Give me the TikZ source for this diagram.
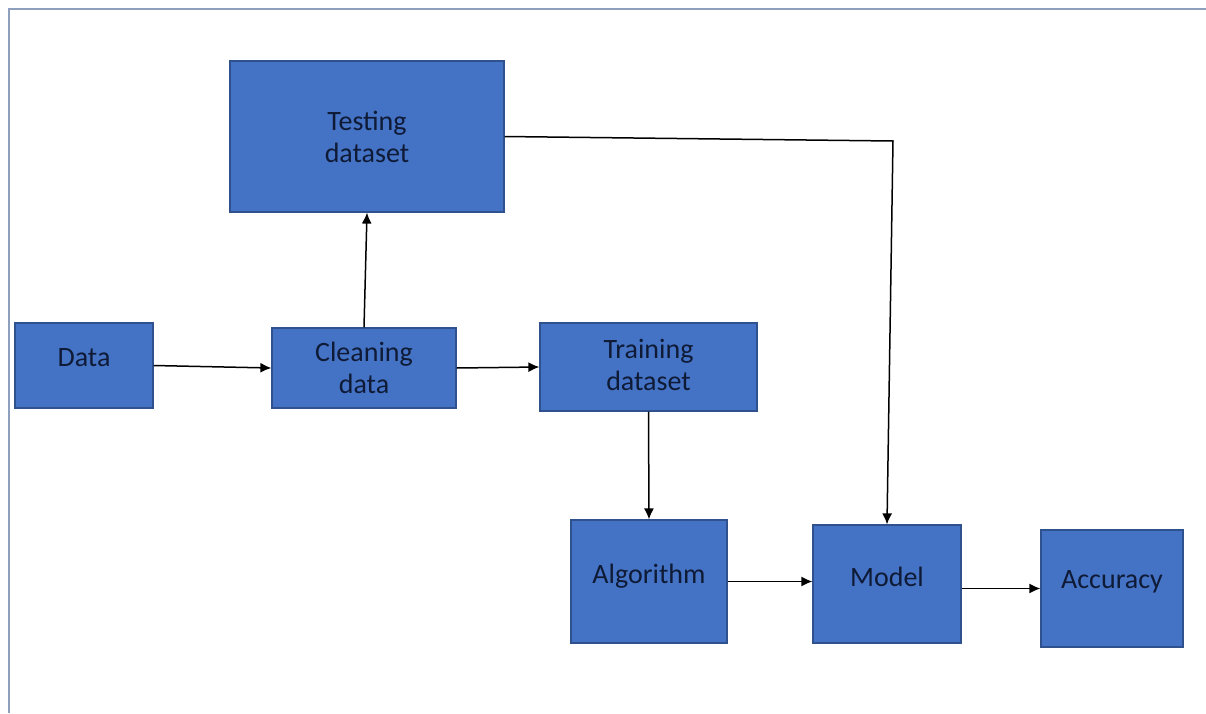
\documentclass[tikz,border=0pt]{standalone}
\usepackage{fontspec}
\setmainfont{Carlito}
\usetikzlibrary{positioning,arrows.meta,arrows}
\definecolor{blockfill}{HTML}{4472C4}
\definecolor{blockline}{HTML}{2F528F}
\definecolor{blocktext}{HTML}{0F1B36}
\definecolor{framecol}{HTML}{8EA0BD}
\tikzset{
myblock/.style 2 args={
  rectangle,
  draw=blockline,
  fill=blockfill,
  line width=0.6pt,
  inner sep=0pt,
  minimum width=#1,
  minimum height=#2,
  align=center,
  text=blocktext,
  font=\fontsize{14}{16}\selectfont
  },
myarrow/.style={-{Latex[length=5.5pt,width=5pt]},line width=0.75pt,black}
}

\begin{document}
\begin{tikzpicture}[>=latex,x=0.5pt,y=-0.5pt]
\useasboundingbox (0,0) rectangle (1206,713);
\draw[framecol,line width=1pt] (9,713) -- (9,9) -- (1206,9);

\node[myblock={137pt}{75.5pt}] (testing) at (367,136.5) {Testing\\dataset};
\node[myblock={69pt}{42.5pt},text depth=8pt] (data) at (84,365.5) {Data};
\node[myblock={92pt}{40pt}] (cleaning) at (364,368) {Cleaning\\data};
\node[myblock={108.5pt}{44pt},text depth=2.5pt] (training) at (648.5,367) {Training\\dataset};
\node[myblock={78pt}{61.5pt},text depth=8pt] (algorithm) at (649,581.5) {Algorithm};
\node[myblock={74pt}{59pt},text depth=7pt] (model) at (887,584) {Model};
\node[myblock={71pt}{58.5pt},text depth=9pt] (accuracy) at (1112,588.5) {Accuracy};
\coordinate (tcorner) at (893,141);

\draw[myarrow] (data.east) -- (cleaning.west);
\draw[myarrow] (cleaning.east) -- (training.west);
\draw[myarrow] (cleaning.north) -- (testing.south);
\draw[myarrow] (training.south) -- (algorithm.north);
\draw[myarrow] (algorithm.east) -- (algorithm.east -| model.west);
\draw[myarrow] (accuracy.west -| model.east) -- (accuracy.west);
\draw[myarrow] (testing.east) -- (tcorner) -- (model.north);
\end{tikzpicture}
\end{document}
